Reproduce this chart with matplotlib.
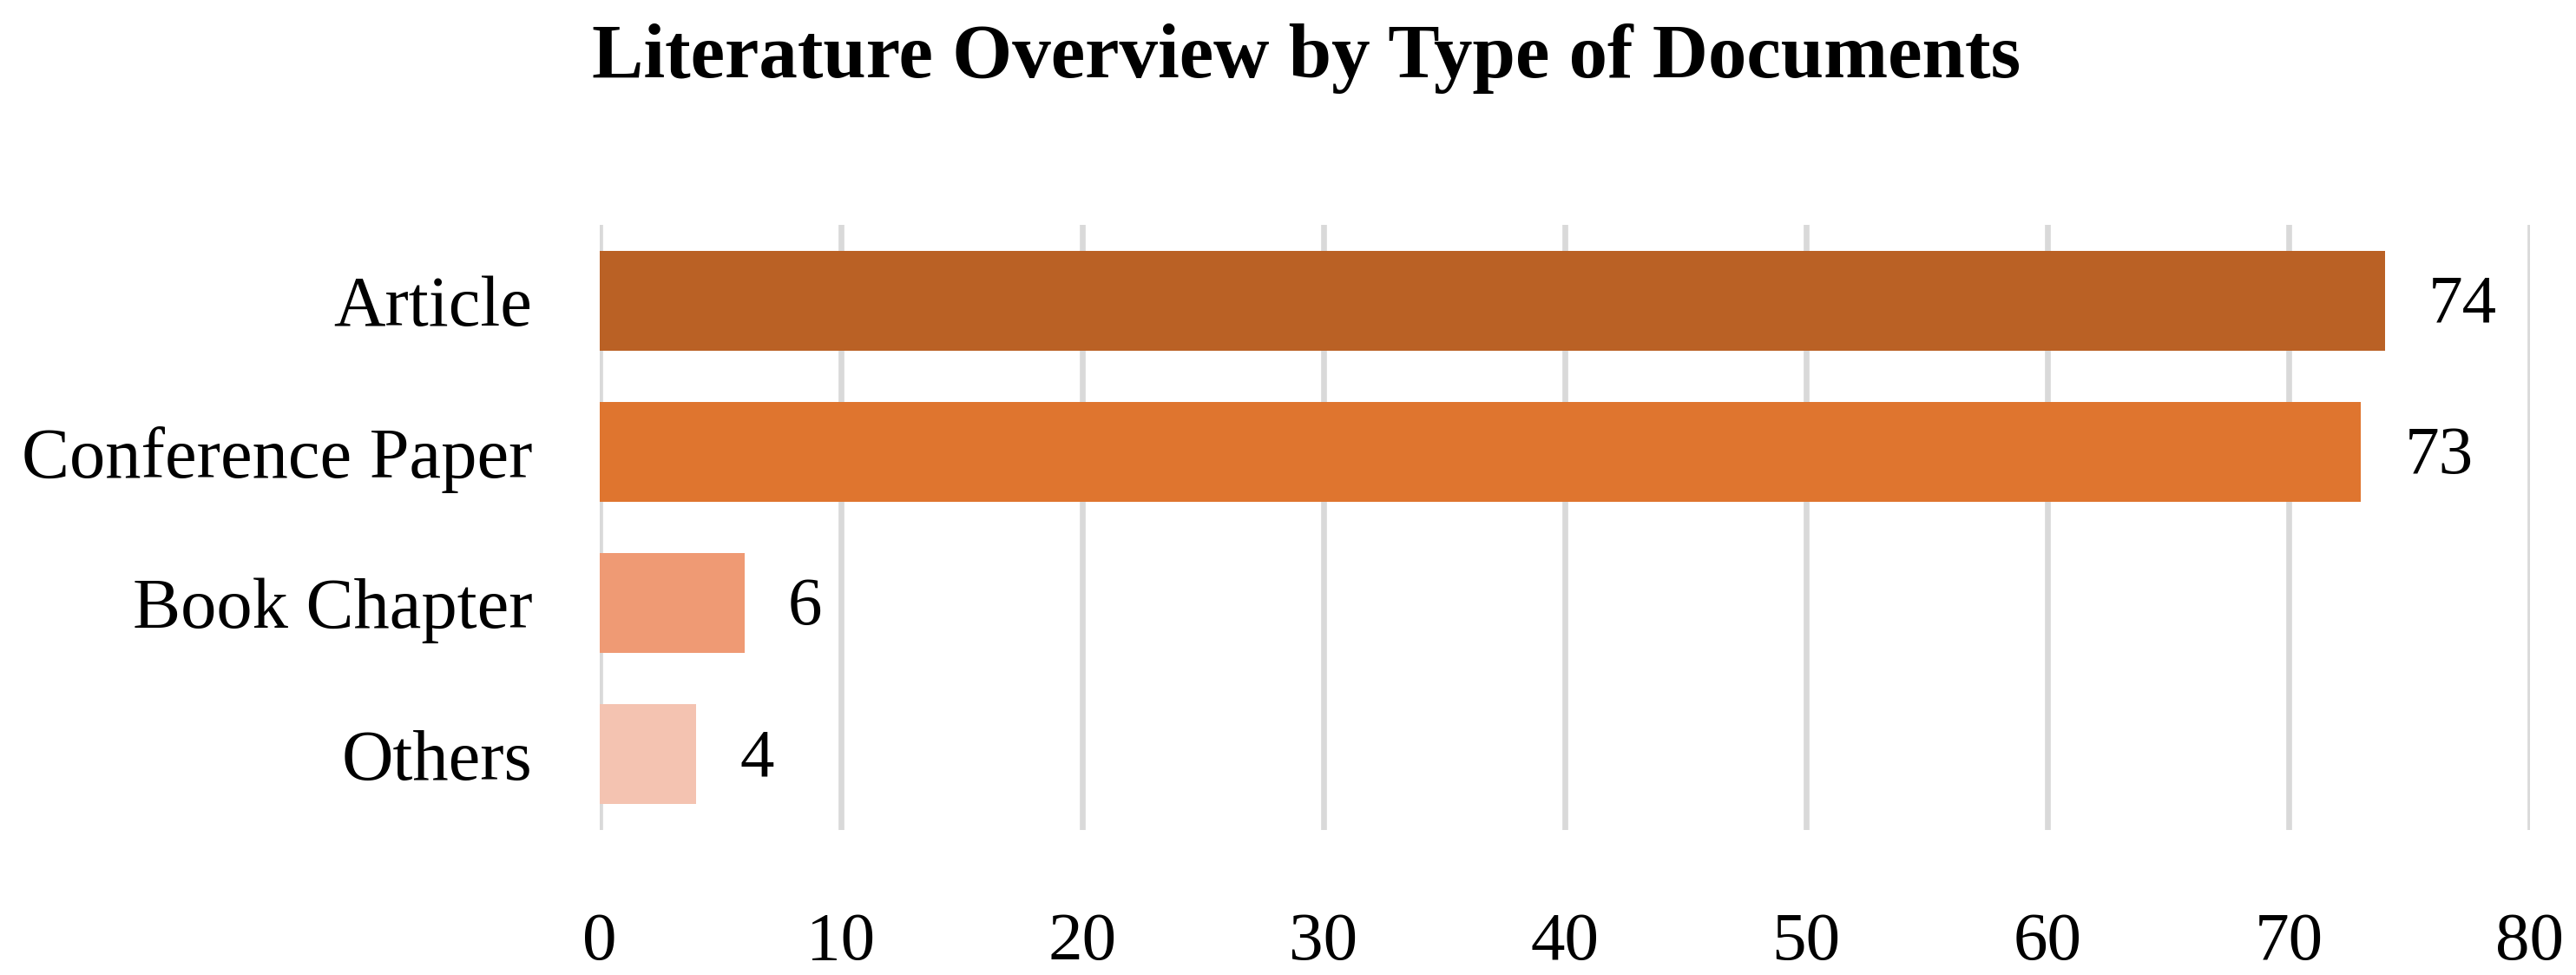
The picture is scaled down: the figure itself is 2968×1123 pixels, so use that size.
import matplotlib
matplotlib.use('Agg')
import matplotlib.pyplot as plt

# data
categories = ['Article', 'Conference Paper', 'Book Chapter', 'Others']
counts = [74, 73, 6, 4]
colors = ['#BA6125', '#DF752F', '#EF9A74', '#F4C3B1']
xticks = [0, 10, 20, 30, 40, 50, 60, 70, 80]

plt.rcParams['font.family'] = ['Liberation Serif', 'DejaVu Serif']

fig = plt.figure(figsize=(14.84, 5.615), dpi=200)
ax = fig.add_axes([0.2328, 0.1487, 0.9821 - 0.2328, 0.7694 - 0.1487])

ypos = list(range(len(categories)))
ax.barh(ypos, counts, height=0.66, color=colors, zorder=3)

# value labels
for y, v in zip(ypos, counts):
    ax.annotate(str(v), (v, y), xytext=(18, -2), textcoords='offset points',
                ha='left', va='center', fontsize=28.5)

ax.set_xlim(0, 80)
ax.set_ylim(3.5, -0.5)
ax.set_xticks(xticks)
ax.set_xticklabels([str(t) for t in xticks], fontsize=28.5)
ax.set_yticks(ypos)
ax.set_yticklabels(categories, fontsize=29.7)
ax.tick_params(axis='x', length=0, pad=34)
ax.tick_params(axis='y', length=0, pad=28)

ax.grid(axis='x', color='#D9D9D9', linewidth=2.4, zorder=0)
for s in ax.spines.values():
    s.set_visible(False)

fig.text(0.507, 0.94, 'Literature Overview by Type of Documents',
         ha='center', va='center', fontsize=32, fontweight='bold')

fig.savefig('out.png', dpi=200, facecolor='white')
